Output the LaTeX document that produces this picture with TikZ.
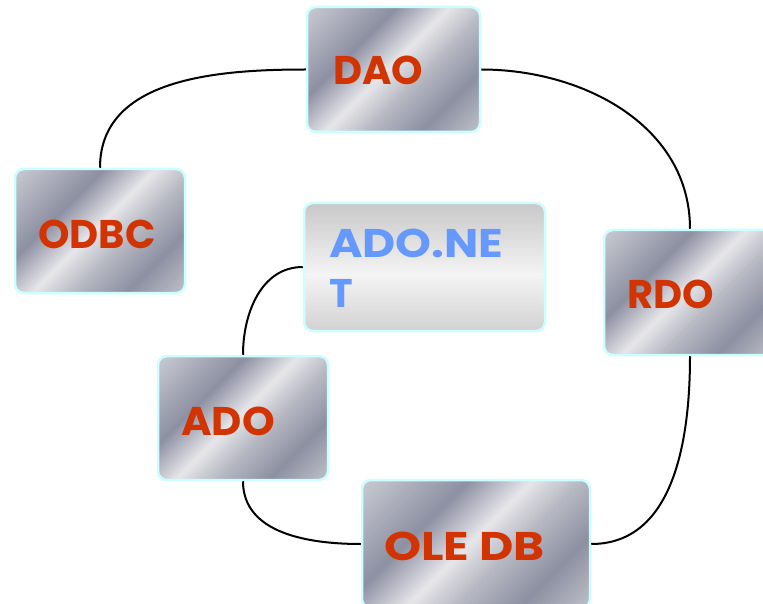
\documentclass[tikz,border=0pt]{standalone}
\usepackage{fontspec}
\usepackage{graphicx}
\setmainfont{Poppins}
\definecolor{mA}{HTML}{C9CBD2}
\definecolor{mD}{HTML}{8D90A2}
\definecolor{mL}{HTML}{E6E6EA}
\definecolor{mM}{HTML}{B6B8C2}
\definecolor{mE}{HTML}{BFC1C9}
\definecolor{gB}{HTML}{D2D2D2}
\definecolor{gL}{HTML}{F4F4F4}
\definecolor{gT}{HTML}{C8C8C8}
\definecolor{bordc}{HTML}{CCFFFF}
\definecolor{redc}{RGB}{210,52,0}
\definecolor{bluec}{HTML}{6699FF}
\pgfdeclarehorizontalshading{metal}{100bp}{color(0bp)=(mA); color(14.6bp)=(mA); color(35.8bp)=(mD); color(48.5bp)=(mL); color(58.4bp)=(mM); color(71.2bp)=(mD); color(85.4bp)=(mE); color(100bp)=(mE)}
\pgfdeclareverticalshading{glass}{100bp}{color(0bp)=(gB); color(25bp)=(gB); color(47bp)=(gL); color(75bp)=(gT); color(100bp)=(gT)}
\begin{document}
\begin{tikzpicture}[x=1pt,y=-1pt,
  box/.style={draw=bordc, line width=2.5pt, rounded corners=9pt, shade, shading=metal, shading angle=-45, inner sep=0pt},
  glassbox/.style={box, shading=glass, shading angle=0},
  lbl/.style={anchor=base west, font=\fontsize{40}{48}\selectfont\bfseries, text=redc, inner sep=0pt},
  bluelbl/.style={lbl, text=bluec},
  link/.style={draw=black, line width=2pt}]
\useasboundingbox (0,0) rectangle (763,604);
\node[box, minimum width=173pt, minimum height=125pt] (dao) at (393.5,69.5) {};
\node[box, minimum width=170pt, minimum height=124pt] (odbc) at (100,231) {};
\node[glassbox, minimum width=241pt, minimum height=128pt] (adonet) at (424.5,267) {};
\node[box, minimum width=172pt, minimum height=125pt] (rdo) at (690,292.5) {};
\node[box, minimum width=170pt, minimum height=124pt] (ado) at (243,418) {};
\node[box, minimum width=228pt, minimum height=128pt] (oledb) at (476,544) {};
\node[lbl] (daot) at (333,85) {DAO};
\node[lbl] (odbct) at (38,248) {ODBC};
\node[bluelbl] (adonett1) at (329,258) {\scalebox{1.14}[1]{ADO.NE}};
\node[bluelbl] (adonett2) at (329,307) {T};
\node[lbl] (rdot) at (627,308) {RDO};
\node[lbl] (adot) at (181,435) {\scalebox{1.04}[1]{ADO}};
\node[lbl] (oledbt) at (384,560) {\scalebox{1.18}[1]{OLE DB}};
\draw[link] (odbc.north) to[out=90,in=180] (dao.west);
\draw[link] (dao.east) to[out=0,in=90] (rdo.north);
\draw[link] (rdo.south) to[out=-90,in=0] (oledb.east);
\draw[link] (oledb.west) to[out=180,in=-90] (ado.south);
\draw[link] (ado.north) to[out=90,in=180] (adonet.west);
\end{tikzpicture}
\end{document}
